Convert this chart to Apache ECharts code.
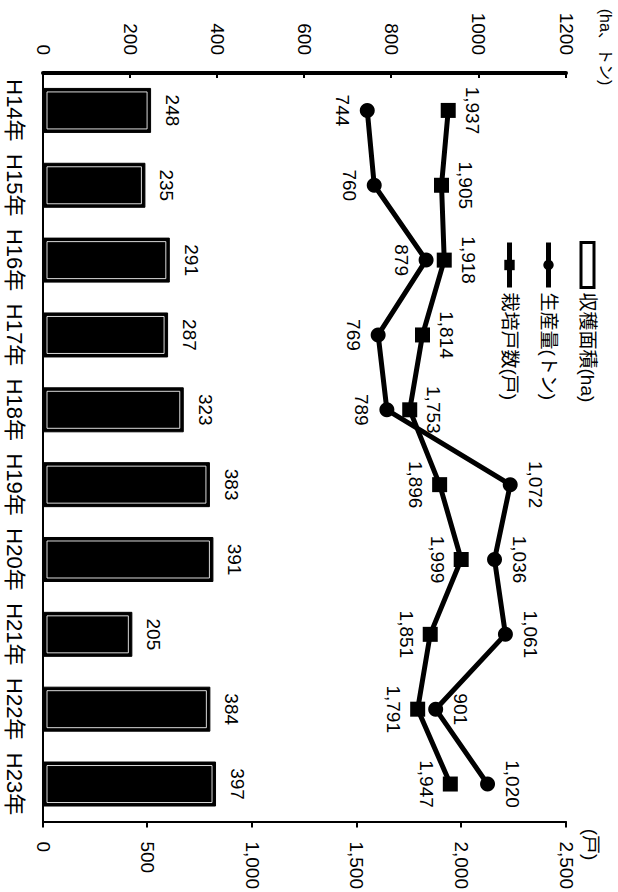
<!DOCTYPE html>
<html>
<head>
<meta charset="utf-8">
<script src="https://cdn.jsdelivr.net/npm/echarts@6/dist/echarts.min.js"></script>
<style>
html,body{margin:0;padding:0;width:618px;height:892px;overflow:hidden;background:#fff;}
#chart{position:absolute;left:0;top:0;width:892px;height:618px;transform-origin:0 0;transform:translate(618px,0) rotate(90deg);}
</style>
</head>
<body>
<div id="chart"></div>
<script>
// ---- data ----
const categories = ['H14年','H15年','H16年','H17年','H18年','H19年','H20年','H21年','H22年','H23年'];
const areaHa = [248, 235, 291, 287, 323, 383, 391, 205, 384, 397];
const productionTon = [744, 760, 879, 769, 789, 1072, 1036, 1061, 901, 1020];
const households = [1937, 1905, 1918, 1814, 1753, 1896, 1999, 1851, 1791, 1947];
const leftAxisTicks = [0, 200, 400, 600, 800, 1000, 1200];
const rightAxisTicks = [0, 500, 1000, 1500, 2000, 2500];
const seriesNames = ['収穫面積(ha)', '生産量(トン)', '栽培戸数(戸)'];
const leftAxisName = '(ha、トン)';
const rightAxisName = '(戸)';

// ---- label placement (style, not data) ----
const productionLabelPos = ['bottom','bottom','bottom','bottom','bottom','top','top','top','top','top'];
const householdLabelPos = ['top','top','top','top','top','bottom','bottom','bottom','bottom','bottom'];

const FONT = '"Liberation Sans", Arial, "Noto Sans CJK JP", sans-serif';
const fmt = v => String(v).replace(/\B(?=(\d{3})+(?!\d))/g, ',');
const BAR_W = 45;

const chart = echarts.init(document.getElementById('chart'), null, {renderer: 'svg', width: 892, height: 618});

const option = {
  animation: false,
  backgroundColor: '#fff',
  textStyle: {fontFamily: FONT, color: '#000'},
  grid: {left: 73, right: 70, top: 52, bottom: 43},
  legend: {
    orient: 'vertical',
    left: 235,
    top: 16,
    itemGap: 20,
    itemWidth: 45,
    itemHeight: 13,
    textStyle: {fontSize: 19, color: '#000', fontFamily: FONT},
    data: [
      {name: seriesNames[0], icon: 'rect', itemStyle: {color: '#fff', borderColor: '#000', borderWidth: 3}},
      {name: seriesNames[1], lineStyle: {width: 5, color: '#000'}},
      {name: seriesNames[2], lineStyle: {width: 5, color: '#000'}}
    ]
  },
  xAxis: {
    type: 'category',
    data: categories,
    axisLine: {lineStyle: {color: '#000', width: 2}},
    axisTick: {inside: true, length: 6, lineStyle: {color: '#000', width: 2}},
    axisLabel: {fontSize: 22, color: '#000', margin: 17, interval: 0, fontFamily: FONT}
  },
  yAxis: [
    {
      type: 'value',
      position: 'left',
      min: leftAxisTicks[0],
      max: leftAxisTicks[leftAxisTicks.length - 1],
      interval: leftAxisTicks[1] - leftAxisTicks[0],
      name: leftAxisName,
      nameLocation: 'end',
      nameGap: 31,
      nameTextStyle: {fontSize: 16, color: '#000', padding: [0, 52, 0, 0], fontFamily: FONT},
      axisLine: {show: true, lineStyle: {color: '#000', width: 4}},
      axisTick: {show: true, inside: true, length: 5, lineStyle: {color: '#000', width: 2}},
      splitLine: {show: false},
      axisLabel: {fontSize: 19, color: '#000', margin: 18, formatter: v => String(v), fontFamily: FONT}
    },
    {
      type: 'value',
      position: 'right',
      min: rightAxisTicks[0],
      max: rightAxisTicks[rightAxisTicks.length - 1],
      interval: rightAxisTicks[1] - rightAxisTicks[0],
      name: rightAxisName,
      nameLocation: 'end',
      nameGap: 15,
      nameTextStyle: {fontSize: 19, color: '#000', padding: [0, 0, 0, 46], fontFamily: FONT},
      axisLine: {show: true, lineStyle: {color: '#000', width: 2}},
      axisTick: {show: true, inside: false, length: 6, lineStyle: {color: '#000', width: 2}},
      splitLine: {show: false},
      axisLabel: {fontSize: 19, color: '#000', margin: 20, formatter: v => fmt(v), fontFamily: FONT}
    }
  ],
  series: [
    {
      name: seriesNames[0],
      type: 'bar',
      yAxisIndex: 0,
      barWidth: BAR_W,
      data: areaHa,
      itemStyle: {color: '#000', borderColor: '#000', borderWidth: 1},
      label: {show: true, position: 'top', distance: 12, fontSize: 19, color: '#000', fontFamily: FONT}
    },
    {
      // thin white inner outline inside each bar (as in the scanned original)
      name: 'bar-inner-outline',
      type: 'custom',
      yAxisIndex: 0,
      silent: true,
      z: 3,
      data: areaHa.map((v, i) => [i, v]),
      renderItem: function (params, api) {
        const topPt = api.coord([api.value(0), api.value(1)]);
        const basePt = api.coord([api.value(0), 0]);
        const inset = 4;
        return {
          type: 'rect',
          shape: {
            x: topPt[0] - BAR_W / 2 + inset,
            y: topPt[1] + inset,
            width: BAR_W - 2 * inset,
            height: basePt[1] - topPt[1] - 2 * inset
          },
          style: {fill: 'none', stroke: '#fff', lineWidth: 1, opacity: 0.85}
        };
      }
    },
    {
      name: seriesNames[1],
      type: 'line',
      yAxisIndex: 0,
      symbol: 'circle',
      symbolSize: 15,
      z: 4,
      lineStyle: {color: '#000', width: 5},
      itemStyle: {color: '#000'},
      data: productionTon.map((v, i) => ({
        value: v,
        label: {position: productionLabelPos[i]}
      })),
      label: {show: true, distance: 8, fontSize: 19, color: '#000', fontFamily: FONT, formatter: p => fmt(p.value)}
    },
    {
      name: seriesNames[2],
      type: 'line',
      yAxisIndex: 1,
      symbol: 'rect',
      symbolSize: 15,
      z: 5,
      lineStyle: {color: '#000', width: 5},
      itemStyle: {color: '#000'},
      data: households.map((v, i) => ({
        value: v,
        label: {position: householdLabelPos[i]}
      })),
      label: {show: true, distance: 7, fontSize: 19, color: '#000', fontFamily: FONT, formatter: p => fmt(p.value)}
    }
  ]
};
chart.setOption(option);
</script>
</body>
</html>
